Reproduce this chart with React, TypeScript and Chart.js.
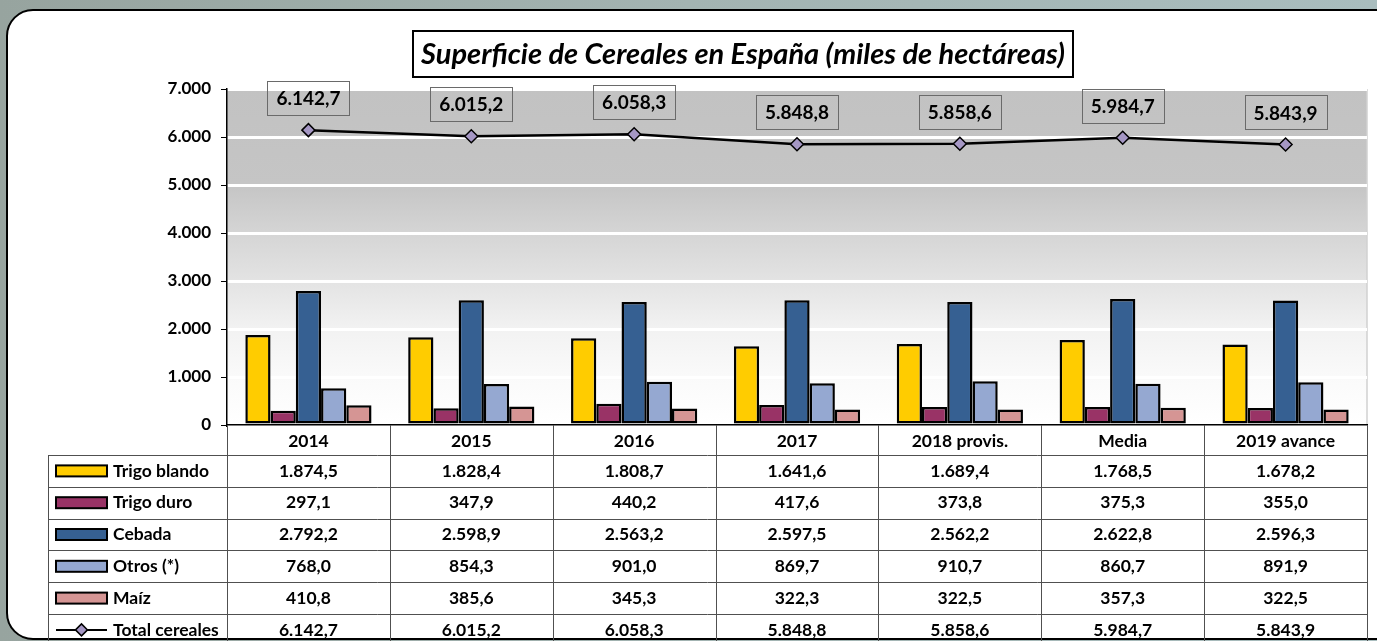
import React, { useEffect, useRef } from "react";
import { Chart, registerables } from "chart.js";

Chart.register(...registerables);

const categories = ["2014", "2015", "2016", "2017", "2018 provis.", "Media", "2019 avance"];
const trigoBlando = [1874.5, 1828.4, 1808.7, 1641.6, 1689.4, 1768.5, 1678.2];
const trigoDuro = [297.1, 347.9, 440.2, 417.6, 373.8, 375.3, 355.0];
const cebada = [2792.2, 2598.9, 2563.2, 2597.5, 2562.2, 2622.8, 2596.3];
const otros = [768.0, 854.3, 901.0, 869.7, 910.7, 860.7, 891.9];
const maiz = [410.8, 385.6, 345.3, 322.3, 322.5, 357.3, 322.5];
const totalCereales = [6142.7, 6015.2, 6058.3, 5848.8, 5858.6, 5984.7, 5843.9];
const yMin = 0;
const yMax = 7000;
const yStep = 1000;
const titleText = "Superficie de Cereales en España (miles de hectáreas)";

const FONT = "Lato, 'Open Sans', sans-serif";
const W = 1377;
const H = 641;
const TXT = 17.5;

function fmtEs(v: number, dec: number): string {
  const s = v.toFixed(dec);
  const [i, d] = s.split(".");
  const ii = i.replace(/\B(?=(\d{3})+(?!\d))/g, ".");
  return d ? ii + "," + d : ii;
}

const decorPlugin = {
  id: "decor",
  beforeDraw(chart: any) {
    const ctx = chart.ctx as CanvasRenderingContext2D;
    const a = chart.chartArea;
    ctx.save();
    const g = ctx.createLinearGradient(0, 0, W, 0);
    g.addColorStop(0, "#97a49f");
    g.addColorStop(0.5, "#a3b4b2");
    g.addColorStop(1, "#a9bdbe");
    ctx.fillStyle = g;
    ctx.fillRect(0, 0, W, H);
    const px = 7, py = 10, pw = W + 40, ph = 629, r = 26;
    ctx.beginPath();
    ctx.moveTo(px + r, py);
    ctx.lineTo(px + pw, py);
    ctx.lineTo(px + pw, py + ph);
    ctx.lineTo(px + r, py + ph);
    ctx.arcTo(px, py + ph, px, py + ph - r, r);
    ctx.lineTo(px, py + r);
    ctx.arcTo(px, py, px + r, py, r);
    ctx.closePath();
    ctx.fillStyle = "#ffffff";
    ctx.fill();
    ctx.lineWidth = 2;
    ctx.strokeStyle = "#000000";
    ctx.stroke();
    const pg = ctx.createLinearGradient(0, a.top, 0, a.bottom);
    pg.addColorStop(0, "#c2c2c2");
    pg.addColorStop(0.286, "#c5c5c5");
    pg.addColorStop(0.43, "#d5d5d5");
    pg.addColorStop(0.57, "#e3e3e3");
    pg.addColorStop(0.714, "#f2f2f2");
    pg.addColorStop(0.857, "#fafafa");
    pg.addColorStop(1, "#ffffff");
    ctx.fillStyle = pg;
    ctx.fillRect(a.left, a.top, a.right - a.left, a.bottom - a.top);
    ctx.strokeStyle = "#d0d0d0";
    ctx.lineWidth = 1.5;
    ctx.beginPath();
    ctx.moveTo(a.right, a.top);
    ctx.lineTo(a.right, a.bottom);
    ctx.stroke();
    ctx.font = `italic bold 29px ${FONT}`;
    const tw = ctx.measureText(titleText).width;
    const cx = 743;
    const bw = Math.max(tw + 16, 100);
    ctx.fillStyle = "#ffffff";
    ctx.fillRect(cx - bw / 2, 31, bw, 46);
    ctx.lineWidth = 2;
    ctx.strokeStyle = "#000000";
    ctx.strokeRect(cx - bw / 2, 31, bw, 46);
    ctx.fillStyle = "#000000";
    ctx.textAlign = "center";
    ctx.textBaseline = "middle";
    ctx.fillText(titleText, cx, 55);
    ctx.restore();
  },
  afterDatasetsDraw(chart: any) {
    const ctx = chart.ctx as CanvasRenderingContext2D;
    const idx = chart.data.datasets.findIndex((d: any) => d.type === "line");
    if (idx < 0) return;
    const meta = chart.getDatasetMeta(idx);
    const data = chart.data.datasets[idx].data as number[];
    ctx.save();
    ctx.font = `bold 19px ${FONT}`;
    ctx.textAlign = "center";
    ctx.textBaseline = "middle";
    meta.data.forEach((pt: any, i: number) => {
      const txt = fmtEs(data[i], 1);
      const tw = ctx.measureText(txt).width;
      const bw = tw + 18;
      const bh = 34;
      const cy = pt.y - 32;
      ctx.strokeStyle = "#6a6a6a";
      ctx.lineWidth = 1;
      ctx.strokeRect(Math.round(pt.x - bw / 2) + 0.5, Math.round(cy - bh / 2) + 0.5, Math.round(bw), bh);
      ctx.fillStyle = "#000000";
      ctx.fillText(txt, pt.x, cy + 1);
    });
    ctx.restore();
  },
  afterDraw(chart: any) {
    const ctx = chart.ctx as CanvasRenderingContext2D;
    const a = chart.chartArea;
    const n = categories.length;
    const colW = (a.right - a.left) / n;
    const tableLeft = 48;
    const headerTop = a.bottom;
    const rowTop = 455;
    const rowH = 31.8;
    const datasets = chart.data.datasets;
    ctx.save();
    ctx.strokeStyle = "#505050";
    ctx.lineWidth = 1;
    for (let i = 0; i <= n; i++) {
      const x = Math.round(a.left + i * colW) + 0.5;
      ctx.beginPath();
      ctx.moveTo(x, headerTop);
      ctx.lineTo(x, H);
      ctx.stroke();
    }
    ctx.beginPath();
    ctx.moveTo(tableLeft + 0.5, rowTop);
    ctx.lineTo(tableLeft + 0.5, H);
    ctx.stroke();
    for (let r = 0; r <= datasets.length; r++) {
      const y = Math.round(rowTop + r * rowH) + 0.5;
      ctx.beginPath();
      ctx.moveTo(tableLeft, y);
      ctx.lineTo(a.right, y);
      ctx.stroke();
    }
    ctx.textBaseline = "middle";
    datasets.forEach((ds: any, r: number) => {
      const cy = rowTop + r * rowH + rowH / 2;
      if (ds.type === "line") {
        ctx.strokeStyle = "#000000";
        ctx.lineWidth = 2;
        ctx.beginPath();
        ctx.moveTo(56, cy);
        ctx.lineTo(107, cy);
        ctx.stroke();
        const d = 6;
        ctx.beginPath();
        ctx.moveTo(81.5 - d, cy);
        ctx.lineTo(81.5, cy - d);
        ctx.lineTo(81.5 + d, cy);
        ctx.lineTo(81.5, cy + d);
        ctx.closePath();
        ctx.fillStyle = ds.pointBackgroundColor;
        ctx.fill();
        ctx.lineWidth = 1.5;
        ctx.stroke();
      } else {
        ctx.fillStyle = ds.backgroundColor;
        ctx.fillRect(56, cy - 5.5, 51, 11);
        ctx.strokeStyle = "#000000";
        ctx.lineWidth = 2;
        ctx.strokeRect(56, cy - 5.5, 51, 11);
      }
      ctx.fillStyle = "#000000";
      ctx.font = `bold ${TXT}px ${FONT}`;
      ctx.textAlign = "left";
      ctx.fillText(ds.label, 113, cy);
      ctx.textAlign = "center";
      (ds.data as number[]).forEach((v: number, i: number) => {
        ctx.fillText(fmtEs(v, 1), a.left + (i + 0.5) * colW, cy);
      });
    });
    ctx.restore();
  },
};

export default function App() {
  const ref = useRef<HTMLCanvasElement | null>(null);
  useEffect(() => {
    if (!ref.current) return;
    const barCommon = {
      type: "bar" as const,
      borderColor: "#000000",
      borderWidth: 2.5,
      borderSkipped: false,
      categoryPercentage: 0.775,
      barPercentage: 1,
      order: 1,
    };
    const chart = new Chart(ref.current, {
      type: "bar",
      data: {
        labels: categories,
        datasets: [
          { ...barCommon, label: "Trigo blando", data: trigoBlando, backgroundColor: "#ffcc00" },
          { ...barCommon, label: "Trigo duro", data: trigoDuro, backgroundColor: "#993366" },
          { ...barCommon, label: "Cebada", data: cebada, backgroundColor: "#366092" },
          { ...barCommon, label: "Otros (*)", data: otros, backgroundColor: "#95a8d1" },
          { ...barCommon, label: "Maíz", data: maiz, backgroundColor: "#d59594" },
          {
            type: "line" as const,
            label: "Total cereales",
            data: totalCereales,
            borderColor: "#000000",
            borderWidth: 2.5,
            pointStyle: "rectRot",
            pointRadius: 6.5,
            pointBackgroundColor: "#a597c4",
            pointBorderColor: "#000000",
            pointBorderWidth: 1.5,
            tension: 0,
            order: 0,
          } as any,
        ],
      },
      options: {
        responsive: false,
        animation: false,
        devicePixelRatio: 1,
        layout: { padding: { top: 89, right: 10, left: 0, bottom: 0 } },
        plugins: {
          legend: { display: false },
          title: { display: false },
          tooltip: { enabled: false },
        },
        scales: {
          x: {
            grid: { display: false, drawTicks: false },
            border: { display: true, color: "#000000", width: 1.5 },
            ticks: {
              color: "#000000",
              font: { family: FONT, size: TXT, weight: "bold" },
              padding: 6,
              maxRotation: 0,
              autoSkip: false,
            },
            afterFit(scale: any) {
              scale.height = 216;
            },
          },
          y: {
            min: yMin,
            max: yMax,
            grid: {
              color: "#ffffff",
              lineWidth: 3,
              drawTicks: true,
              tickLength: 6,
              tickColor: "#000000",
              tickWidth: 1,
            },
            border: { display: true, color: "#000000", width: 1.5 },
            ticks: {
              stepSize: yStep,
              color: "#000000",
              font: { family: FONT, size: 17, weight: "bold" },
              padding: 10,
              callback: (v: any) => fmtEs(Number(v), 0),
            },
            afterFit(scale: any) {
              scale.width = 227;
            },
          },
        },
      },
      plugins: [decorPlugin],
    } as any);
    return () => chart.destroy();
  }, []);
  return (
    <div style={{ position: "fixed", left: 0, top: 0, width: W, height: H }}>
      <canvas ref={ref} width={W} height={H} style={{ display: "block", width: W, height: H }} />
    </div>
  );
}
